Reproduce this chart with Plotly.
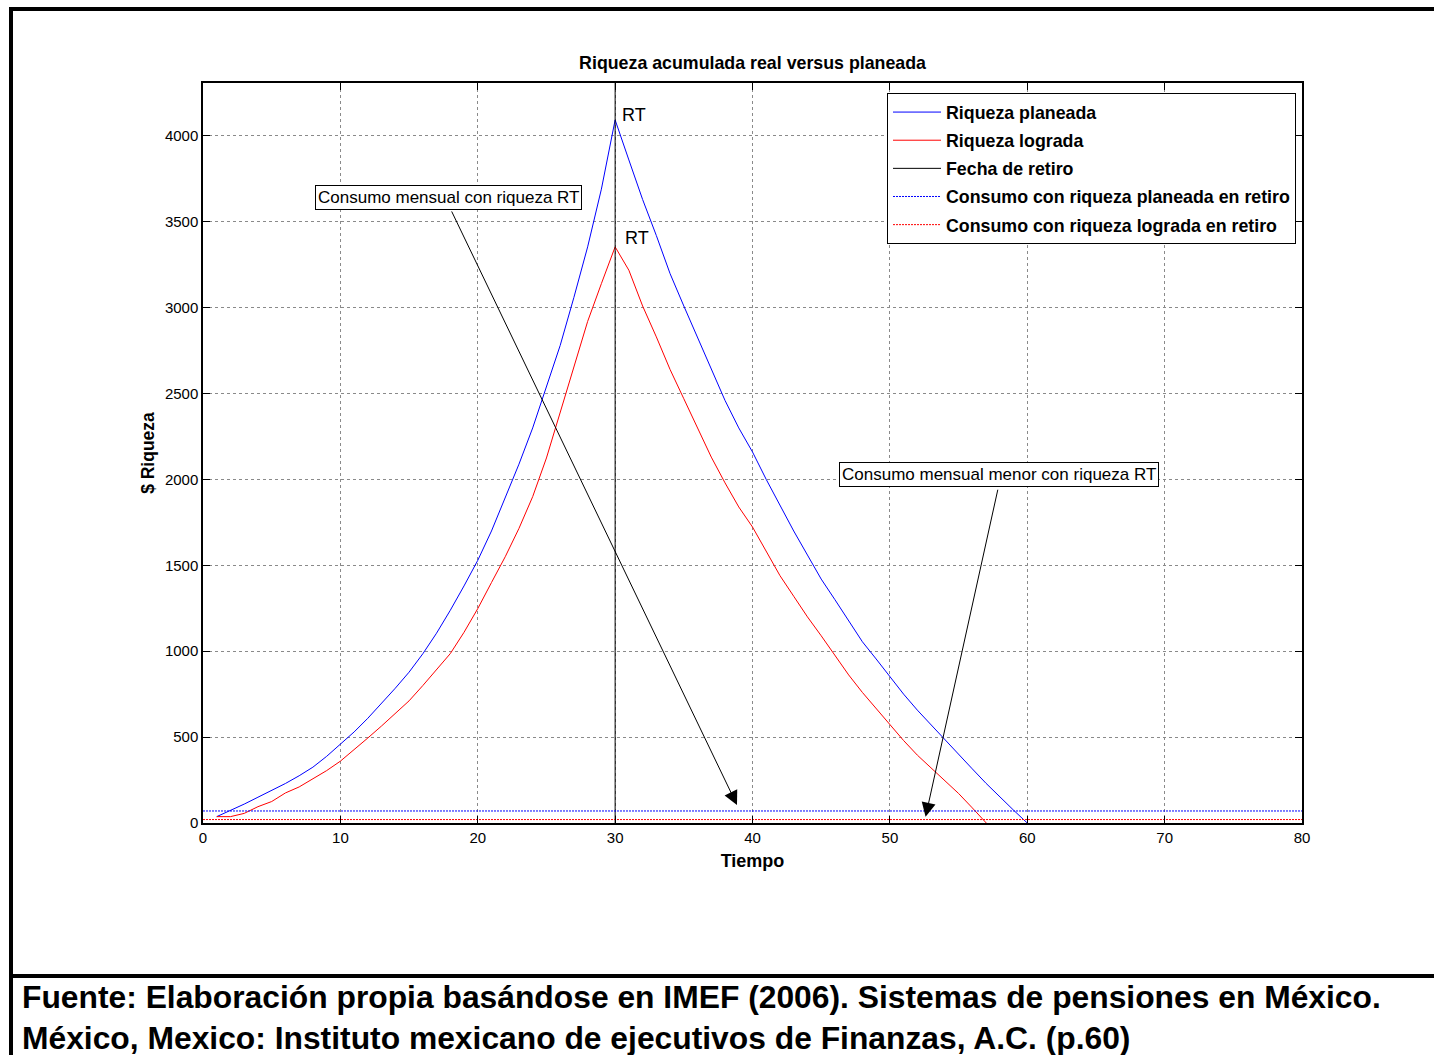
import plotly.graph_objects as go

# ---------------- data ----------------
years = list(range(1, 61))

riqueza_planeada = [
    37, 72, 110, 150, 190, 230, 275, 325, 388, 457,
    530, 610, 695, 785, 878, 985, 1105, 1238, 1380, 1529,
    1700, 1890, 2089, 2300, 2540, 2780, 3060, 3354, 3690, 4093,
    3860, 3630, 3420, 3198, 3010, 2830, 2640, 2460, 2300, 2160,
    2000, 1850, 1700, 1560, 1420, 1300, 1180, 1055, 955, 851,
    750, 657, 570, 485, 400, 315, 231, 150, 75, 0,
]

years_lograda = list(range(1, 59))
riqueza_lograda = [
    37, 37, 56, 95, 125, 175, 210, 255, 305, 360,
    425, 495, 565, 640, 711, 800, 895, 986, 1110, 1248,
    1400, 1550, 1715, 1900, 2125, 2390, 2660, 2920, 3140, 3354,
    3218, 3010, 2830, 2640, 2470, 2300, 2130, 1980, 1840, 1723,
    1580, 1440, 1320, 1200, 1090, 975, 862, 760, 665, 570,
    480, 395, 320, 245, 172, 88, 5, -85,
]

fecha_retiro_x = [30, 30]
fecha_retiro_y = [0, 4308]

consumo_x = [0, 80]
consumo_planeada = [70, 70]
consumo_lograda = [20, 20]

x_ticks = [0, 10, 20, 30, 40, 50, 60, 70, 80]
y_ticks = [0, 500, 1000, 1500, 2000, 2500, 3000, 3500, 4000]
x_range = [0, 80]
y_range = [0, 4308]

# annotation anchors (data units)
rt_plan = (30.35, 4122)
rt_logr = (30.57, 3406)
box1 = (17.87, 3642)
arrow1_tail = (18.05, 3569)
arrow1_head = (38.87, 105)
box2 = (57.93, 2029)
arrow2_tail = (57.88, 1949)
arrow2_head = (52.6, 37)

FONT = "Arial, Liberation Sans, sans-serif"

fig = go.Figure()

fig.add_trace(go.Scatter(x=years, y=riqueza_planeada, mode="lines",
                         name="Riqueza planeada", legendgroup="a",
                         line=dict(color="#0000ff", width=1)))
fig.add_trace(go.Scatter(x=years_lograda, y=riqueza_lograda, mode="lines",
                         name="Riqueza lograda", legendgroup="b",
                         line=dict(color="#ff0000", width=1)))
fig.add_trace(go.Scatter(x=fecha_retiro_x, y=fecha_retiro_y, mode="lines",
                         name="Fecha de retiro", legendgroup="c",
                         line=dict(color="#000000", width=1)))
fig.add_trace(go.Scatter(x=consumo_x, y=consumo_planeada, mode="lines",
                         name="Consumo con riqueza planeada en retiro", legendgroup="d",
                         line=dict(color="#0000ff", width=1, dash="2px,1px")))
fig.add_trace(go.Scatter(x=consumo_x, y=consumo_lograda, mode="lines",
                         name="Consumo con riqueza lograda en retiro", legendgroup="e",
                         line=dict(color="#ff0000", width=1, dash="2px,1px")))

ann = []
ann.append(dict(x=rt_plan[0], y=rt_plan[1], text="RT", showarrow=False,
                xanchor="left", yanchor="middle", font=dict(size=18, color="black")))
ann.append(dict(x=rt_logr[0], y=rt_logr[1], text="RT", showarrow=False,
                xanchor="left", yanchor="middle", font=dict(size=18, color="black")))
ann.append(dict(x=box1[0], y=box1[1], text="Consumo mensual con riqueza RT", showarrow=False,
                xanchor="center", yanchor="middle", bgcolor="white", bordercolor="black",
                borderwidth=1, borderpad=2, font=dict(size=17, color="black")))
ann.append(dict(x=box2[0], y=box2[1], text="Consumo mensual menor con riqueza RT", showarrow=False,
                xanchor="center", yanchor="middle", bgcolor="white", bordercolor="black",
                borderwidth=1, borderpad=2, font=dict(size=17, color="black")))
for tail, head in [(arrow1_tail, arrow1_head), (arrow2_tail, arrow2_head)]:
    ann.append(dict(x=head[0], y=head[1], ax=tail[0], ay=tail[1], axref="x", ayref="y",
                    text="", showarrow=True, arrowhead=2, arrowsize=2.8, arrowwidth=1,
                    arrowcolor="black", standoff=0, startstandoff=0))

# caption
ann.append(dict(xref="paper", yref="paper", x=(20 - 203) / 1099, y=(823 - 997) / 740,
                text="<b>Fuente: Elaboración propia basándose en IMEF (2006). Sistemas de pensiones en México.</b>",
                showarrow=False, xanchor="left", yanchor="middle",
                font=dict(size=31.8, color="black")))
ann.append(dict(xref="paper", yref="paper", x=(20 - 203) / 1099, y=(823 - 1038) / 740,
                text="<b>México, Mexico: Instituto mexicano de ejecutivos de Finanzas, A.C. (p.60)</b>",
                showarrow=False, xanchor="left", yanchor="middle",
                font=dict(size=31.8, color="black")))

def px_x(p):
    return (p - 203) / 1099

def px_y(p):
    return (823 - p) / 740

shapes = [
    dict(type="line", xref="paper", yref="paper", x0=px_x(9), x1=px_x(1440),
         y0=px_y(9), y1=px_y(9), line=dict(color="black", width=4)),
    dict(type="line", xref="paper", yref="paper", x0=px_x(11), x1=px_x(11),
         y0=px_y(7), y1=px_y(1060), line=dict(color="black", width=4)),
    dict(type="line", xref="paper", yref="paper", x0=px_x(9), x1=px_x(1440),
         y0=px_y(976), y1=px_y(976), line=dict(color="black", width=4)),
]

axis_common = dict(
    showline=True, linecolor="black", linewidth=1.5, mirror="ticks",
    ticks="inside", ticklen=7, tickcolor="black", tickwidth=1,
    showgrid=True, gridcolor="#8a8a8a", griddash="dot", gridwidth=1,
    zeroline=False, tickfont=dict(size=15, color="black"),
)

fig.update_layout(
    width=1434, height=1055,
    margin=dict(l=203, r=132, t=83, b=232),
    paper_bgcolor="white", plot_bgcolor="white",
    font=dict(family=FONT, color="black"),
    title=dict(text="<b>Riqueza acumulada real versus planeada</b>", x=0.5248, xanchor="center",
               y=1 - 63 / 1055, yanchor="middle", yref="container",
               font=dict(size=17.8, color="black")),
    xaxis=dict(range=x_range, tickvals=x_ticks, **axis_common,
               title=dict(text="<b>Tiempo</b>", font=dict(size=18), standoff=10)),
    yaxis=dict(range=y_range, tickvals=y_ticks, **axis_common,
               title=dict(text="<b>$ Riqueza</b>", font=dict(size=17.5), standoff=6)),
    legend=dict(x=px_x(887), y=px_y(93), xanchor="left", yanchor="top",
                bgcolor="white", bordercolor="black", borderwidth=1,
                font=dict(size=17.8, color="black"), itemwidth=48,
                traceorder="grouped", tracegroupgap=2),
    showlegend=True,
    annotations=ann,
    shapes=shapes,
)

# make legend text bold
for tr in fig.data:
    tr.name = "<b>" + tr.name + "</b>"

fig.write_html("out.html")
